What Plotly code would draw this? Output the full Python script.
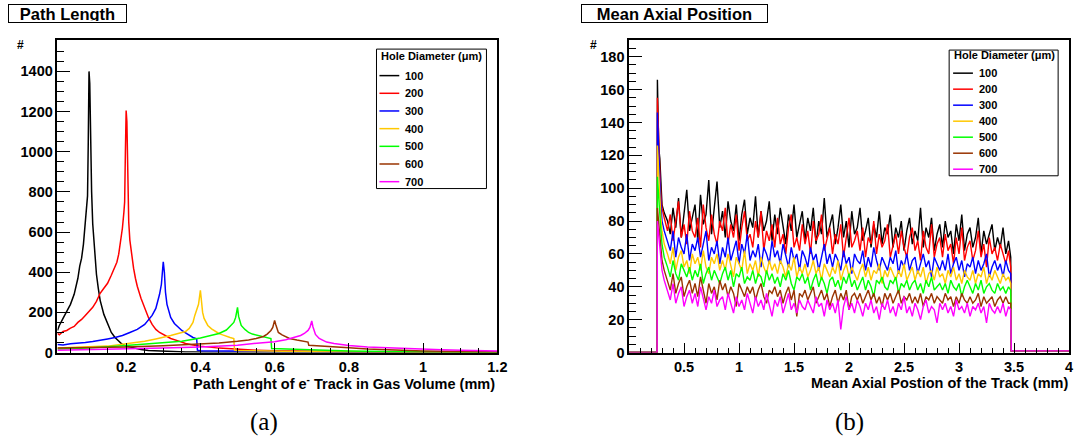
import plotly.graph_objects as go

# ---------------- data ----------------
diameters = ["100", "200", "300", "400", "500", "600", "700"]
colors = ["#000000", "#ff0000", "#0000ff", "#ffc800", "#00ff00", "#993300", "#ff00ff"]
legend_title = "Hole Diameter (μm)"

# Left panel: path length of e- track in gas volume (mm) vs counts
len_x_100 = [0.015, 0.02, 0.03, 0.04, 0.05, 0.06, 0.07, 0.075, 0.08, 0.085,
             0.09, 0.093, 0.096, 0.098, 0.1, 0.102, 0.104, 0.107, 0.11, 0.115,
             0.12, 0.125, 0.13, 0.14, 0.15, 0.16, 0.17, 0.18, 0.19, 0.2,
             0.22, 0.24, 0.26, 0.28, 0.3, 0.32, 0.34, 0.36, 0.38, 0.4,
             0.45, 0.5, 0.6, 0.8, 1.0, 1.2]
len_y_100 = [110, 135, 170, 205, 240, 290, 370, 430, 470, 540,
             640, 720, 780, 1050, 1400, 1340, 1000, 800, 640, 500,
             390, 320, 260, 190, 140, 100, 75, 55, 40, 32,
             22, 15, 10, 8, 6, 5, 4, 3, 3, 2,
             1, 1, 0, 0, 0, 0]

len_x_200 = [0.015, 0.02, 0.03, 0.04, 0.05, 0.06, 0.07, 0.08, 0.09, 0.1,
             0.11, 0.12, 0.13, 0.14, 0.15, 0.16, 0.17, 0.175, 0.18, 0.185,
             0.19, 0.194, 0.196, 0.198, 0.2, 0.202, 0.204, 0.207, 0.21, 0.215,
             0.22, 0.225, 0.23, 0.24, 0.25, 0.26, 0.27, 0.28, 0.29, 0.3,
             0.32, 0.34, 0.36, 0.38, 0.4, 0.45, 0.5, 0.55, 0.6, 0.7,
             0.8, 0.9, 1.0, 1.2]
len_y_200 = [95, 88, 105, 110, 122, 130, 150, 165, 185, 205,
             225, 255, 295, 320, 345, 385, 430, 450, 490, 550,
             620, 700, 750, 1000, 1205, 1150, 900, 650, 560, 480,
             420, 370, 330, 270, 220, 175, 140, 115, 100, 90,
             70, 58, 45, 38, 32, 22, 16, 12, 9, 6,
             4, 3, 2, 1]

len_x_300 = [0.015, 0.03, 0.05, 0.07, 0.09, 0.11, 0.13, 0.15, 0.17, 0.19,
             0.21, 0.23, 0.25, 0.26, 0.27, 0.28, 0.285, 0.29, 0.295, 0.3,
             0.303, 0.306, 0.31, 0.315, 0.32, 0.33, 0.34, 0.35, 0.36, 0.37,
             0.38, 0.39, 0.392, 0.4, 0.45, 0.5, 0.6, 0.7, 0.8, 1.0,
             1.2]
len_y_300 = [40, 38, 44, 46, 50, 55, 60, 68, 75, 85,
             100, 115, 140, 160, 185, 220, 250, 290, 340, 452,
             400, 300, 240, 200, 175, 145, 125, 110, 98, 85,
             75, 68, 12, 9, 8, 6, 4, 3, 2, 1,
             0]

len_x_400 = [0.015, 0.05, 0.1, 0.15, 0.2, 0.25, 0.28, 0.3, 0.32, 0.34,
             0.36, 0.37, 0.38, 0.385, 0.39, 0.395, 0.4, 0.403, 0.406, 0.41,
             0.415, 0.42, 0.43, 0.44, 0.45, 0.46, 0.47, 0.48, 0.49, 0.492,
             0.5, 0.55, 0.6, 0.65, 0.7, 0.8, 0.9, 1.0, 1.2]
len_y_400 = [22, 24, 28, 32, 44, 56, 68, 75, 85, 95,
             105, 120, 150, 185, 210, 240, 310, 250, 200, 170,
             150, 135, 118, 105, 95, 88, 80, 75, 70, 12,
             10, 8, 6, 5, 4, 3, 2, 1, 0]

len_x_500 = [0.015, 0.1, 0.2, 0.3, 0.35, 0.4, 0.43, 0.45, 0.47, 0.48,
             0.49, 0.495, 0.5, 0.503, 0.507, 0.51, 0.52, 0.53, 0.54, 0.56,
             0.58, 0.59, 0.592, 0.65, 0.7, 0.8, 0.9, 1.0, 1.2]
len_y_500 = [18, 22, 35, 48, 56, 72, 85, 95, 112, 130,
             150, 175, 225, 180, 150, 135, 115, 100, 92, 82,
             75, 70, 20, 16, 12, 8, 5, 3, 1]

len_x_600 = [0.015, 0.1, 0.2, 0.3, 0.4, 0.45, 0.5, 0.53, 0.55, 0.57,
             0.58, 0.59, 0.595, 0.6, 0.603, 0.607, 0.61, 0.62, 0.63, 0.64,
             0.66, 0.68, 0.69, 0.692, 0.72, 0.76, 0.8, 0.85, 0.9, 1.0,
             1.1, 1.2]
len_y_600 = [22, 24, 28, 34, 42, 48, 56, 62, 70, 80,
             92, 110, 125, 160, 140, 115, 100, 88, 78, 70,
             62, 56, 52, 36, 32, 28, 24, 18, 14, 8,
             5, 3]

len_x_700 = [0.015, 0.1, 0.2, 0.3, 0.4, 0.5, 0.56, 0.6, 0.63, 0.65,
             0.67, 0.68, 0.69, 0.695, 0.7, 0.703, 0.707, 0.71, 0.72, 0.74,
             0.76, 0.78, 0.8, 0.85, 0.9, 0.95, 1.0, 1.05, 1.1, 1.15,
             1.2]
len_y_700 = [12, 14, 17, 22, 28, 36, 48, 54, 64, 75,
             85, 95, 110, 125, 157, 130, 105, 90, 70, 52,
             45, 40, 35, 28, 24, 20, 17, 14, 12, 10,
             8]

# Right panel: mean axial position of the track (mm) vs counts
pos_x_head = [0.0, 0.255, 0.258, 0.27, 0.28, 0.29, 0.30, 0.32]
pos_x_grid = [round(0.35 + 0.025 * i, 3) for i in range(125)]   # bins 0.35 ... 3.45
pos_x_tail = [3.47, 3.475, 4.0]
pos_lead = [0, 0]
pos_end = [1, 1]

pos_100 = [166, 125, 118, 100, 90, 85,
           80, 72, 88, 76, 94, 70, 85, 99, 74, 82,
           90, 68, 96, 78, 84, 105, 72, 88, 104, 76,
           86, 70, 92, 80, 74, 90, 68, 84, 93, 72,
           82, 76, 95, 70, 86, 74, 80, 92, 68, 84,
           72, 88, 76, 66, 84, 74, 90, 70, 78, 86,
           68, 82, 74, 88, 66, 80, 72, 94, 70, 78,
           84, 66, 76, 90, 70, 80, 64, 86, 72, 76,
           88, 68, 74, 82, 64, 78, 70, 86, 66, 76,
           72, 84, 64, 76, 70, 80, 62, 74, 82, 66,
           74, 68, 88, 64, 76, 70, 82, 62, 72, 78,
           64, 80, 70, 74, 60, 78, 68, 84, 62, 72,
           76, 64, 70, 82, 60, 74, 66, 72, 78, 62,
           70, 64, 76, 60, 68,
           58]
pos_200 = [155, 122, 110, 96, 88, 82,
           74, 84, 68, 80, 92, 70, 78, 66, 86, 74,
           70, 82, 64, 90, 76, 68, 84, 72, 66, 80,
           74, 88, 66, 78, 70, 84, 62, 76, 86, 68,
           72, 64, 80, 70, 86, 62, 74, 68, 78, 64,
           82, 66, 72, 60, 76, 84, 64, 70, 62, 78,
           66, 74, 60, 80, 68, 72, 84, 62, 70, 76,
           60, 72, 66, 78, 58, 70, 82, 64, 68, 74,
           62, 76, 58, 70, 66, 80, 60, 72, 64, 68,
           78, 58, 66, 72, 60, 74, 64, 58, 70, 76,
           62, 68, 56, 74, 64, 60, 78, 58, 66, 70,
           58, 72, 62, 66, 54, 70, 60, 76, 56, 64,
           68, 56, 62, 74, 58, 66, 52, 70, 60, 64,
           56, 66, 60, 54, 62,
           52]
pos_300 = [146, 118, 104, 90, 80, 74,
           68, 62, 74, 58, 70, 64, 60, 72, 56, 66,
           62, 70, 58, 66, 74, 56, 64, 60, 68, 54,
           64, 58, 70, 56, 62, 68, 54, 66, 60, 72,
           56, 62, 58, 66, 52, 64, 60, 54, 68, 58,
           62, 54, 66, 58, 52, 64, 56, 60, 50, 62,
           58, 52, 64, 56, 60, 50, 58, 66, 54, 60,
           52, 60, 56, 50, 62, 54, 58, 48, 60, 56,
           54, 62, 50, 58, 52, 64, 56, 50, 58, 54,
           50, 58, 54, 62, 48, 56, 52, 60, 50, 56,
           58, 48, 54, 60, 52, 56, 46, 58, 54, 50,
           56, 50, 60, 48, 54, 58, 50, 56, 46, 54,
           52, 58, 48, 56, 50, 54, 60, 46, 52, 56,
           50, 54, 46, 56, 50,
           48]
pos_400 = [126, 106, 95, 82, 74, 66,
           60, 54, 64, 50, 58, 62, 52, 56, 48, 60,
           54, 58, 50, 62, 52, 48, 58, 54, 60, 50,
           56, 50, 60, 52, 46, 58, 54, 50, 62, 48,
           54, 50, 56, 46, 58, 52, 48, 56, 50, 54,
           48, 56, 52, 46, 54, 50, 58, 46, 52, 48,
           54, 46, 50, 56, 48, 52, 44, 54, 50, 46,
           52, 48, 56, 44, 50, 54, 46, 52, 48, 44,
           50, 54, 46, 52, 44, 50, 48, 54, 42, 50,
           46, 52, 48, 44, 50, 46, 54, 44, 48, 52,
           44, 50, 46, 52, 42, 48, 50, 44, 52, 46,
           48, 42, 50, 46, 52, 44, 48, 42, 50, 46,
           44, 50, 42, 48, 46, 52, 42, 48, 44, 50,
           46, 42, 48, 44, 46,
           42]
pos_500 = [107, 92, 85, 74, 66, 58,
           52, 46, 56, 48, 44, 54, 50, 46, 52, 44,
           50, 46, 54, 42, 48, 52, 44, 50, 46, 42,
           48, 52, 44, 50, 40, 48, 46, 52, 42, 46,
           44, 50, 42, 48, 46, 40, 50, 44, 48, 42,
           46, 40, 48, 44, 50, 42, 38, 46, 44, 48,
           42, 46, 38, 44, 48, 40, 46, 42, 36, 44,
           46, 40, 44, 38, 46, 42, 48, 40, 44, 38,
           42, 46, 38, 44, 40, 34, 44, 42, 46, 40,
           38, 44, 42, 46, 36, 42, 40, 44, 38, 42,
           44, 38, 42, 36, 44, 40, 46, 38, 40, 42,
           38, 42, 36, 44, 40, 38, 42, 34, 40, 44,
           40, 36, 42, 38, 44, 36, 40, 42, 38, 36,
           42, 38, 40, 36, 40,
           38]
pos_600 = [88, 80, 72, 64, 56, 50,
           44, 38, 48, 36, 42, 46, 34, 40, 44, 36,
           42, 34, 46, 38, 30, 42, 36, 40, 32, 44,
           38, 42, 34, 40, 36, 28, 42, 38, 34, 40,
           36, 40, 32, 38, 42, 34, 30, 38, 36, 40,
           34, 38, 30, 36, 40, 32, 38, 22, 36, 34,
           38, 32, 36, 40, 30, 34, 38, 32, 36, 28,
           34, 38, 30, 36, 32, 38, 26, 34, 36, 32,
           36, 30, 34, 38, 32, 36, 30, 34, 28, 36,
           32, 36, 30, 34, 38, 30, 34, 32, 36, 30,
           34, 30, 36, 28, 34, 32, 36, 30, 34, 32,
           30, 36, 32, 34, 28, 34, 30, 36, 32, 30,
           34, 30, 32, 36, 28, 34, 30, 32, 34, 28,
           32, 34, 30, 34, 30,
           30]
pos_700 = [80, 70, 62, 56, 50, 44,
           38, 32, 42, 30, 36, 40, 28, 34, 38, 30,
           36, 28, 40, 32, 26, 34, 30, 38, 28, 32,
           34, 26, 36, 30, 24, 34, 28, 32, 26, 36,
           30, 24, 34, 28, 32, 26, 36, 28, 22, 32,
           28, 34, 24, 30, 36, 26, 30, 24, 32, 28,
           26, 32, 28, 24, 34, 28, 30, 22, 32, 26,
           30, 24, 32, 14, 28, 34, 26, 30, 24, 32,
           28, 22, 30, 26, 32, 24, 28, 20, 30, 26,
           32, 24, 28, 22, 30, 26, 34, 24, 28, 22,
           30, 26, 20, 28, 32, 24, 28, 26, 18, 30,
           26, 30, 24, 28, 22, 32, 26, 28, 24, 30,
           22, 28, 26, 30, 24, 28, 18, 30, 26, 24,
           28, 24, 30, 22, 28,
           26]

len_series = [(len_x_100, len_y_100), (len_x_200, len_y_200), (len_x_300, len_y_300),
              (len_x_400, len_y_400), (len_x_500, len_y_500), (len_x_600, len_y_600),
              (len_x_700, len_y_700)]
pos_series = [pos_100, pos_200, pos_300, pos_400, pos_500, pos_600, pos_700]

# ---------------- figure ----------------
W, H = 1082, 445
FONT = "Liberation Sans, Arial, Helvetica, sans-serif"

fig = go.Figure()

for name, col, (xs, ys) in zip(diameters, colors, len_series):
    n = min(len(xs), len(ys))
    fig.add_trace(go.Scatter(x=xs[:n], y=ys[:n], mode="lines", name=name,
                             line=dict(color=col, width=1.5),
                             xaxis="x", yaxis="y", showlegend=False))

pos_x = pos_x_head + pos_x_grid + pos_x_tail
for name, col, vals in zip(diameters, colors, pos_series):
    ys = pos_lead + vals + pos_end
    n = min(len(pos_x), len(ys))
    fig.add_trace(go.Scatter(x=pos_x[:n], y=ys[:n], mode="lines", name=name,
                             line=dict(color=col, width=1.4),
                             xaxis="x2", yaxis="y2", showlegend=False))

tickfont = dict(family=FONT, size=14.5, color="black", weight="bold")
XL = [58 / W, 502 / W]
XR = [635 / W, 1079 / W]
YD = [1 - 359 / H, 1 - 41 / H]

common = dict(showgrid=False, zeroline=False, showline=True, mirror=True,
              linecolor="black", linewidth=1.5, ticks="inside",
              tickcolor="black", tickwidth=1.3, tickfont=tickfont)

fig.update_layout(
    width=W, height=H,
    margin=dict(l=0, r=0, t=0, b=0),
    paper_bgcolor="white", plot_bgcolor="white",
    showlegend=False,
    xaxis=dict(domain=XL, range=[0.015, 1.2], anchor="y", tickmode="linear",
               tick0=0, dtick=0.2, ticklen=10,
               minor=dict(tick0=0, dtick=0.05, ticks="inside", ticklen=5,
                          tickcolor="black", tickwidth=1),
               **common),
    yaxis=dict(domain=YD, range=[0, 1555], anchor="x", tickmode="linear",
               tick0=0, dtick=200, ticklen=13,
               minor=dict(tick0=0, dtick=50, ticks="inside", ticklen=7,
                          tickcolor="black", tickwidth=1),
               **common),
    xaxis2=dict(domain=XR, range=[0.001, 4], anchor="y2", tickmode="linear",
                tick0=0, dtick=0.5, ticklen=10,
                minor=dict(tick0=0, dtick=0.1, ticks="inside", ticklen=5,
                           tickcolor="black", tickwidth=1),
                **common),
    yaxis2=dict(domain=YD, range=[0, 190], anchor="x2", tickmode="linear",
                tick0=0, dtick=20, ticklen=13,
                minor=dict(tick0=0, dtick=5, ticks="inside", ticklen=7,
                           tickcolor="black", tickwidth=1),
                **common),
)

title_font = dict(family=FONT, size=16.5, color="black", weight="bold")
label_font = dict(family=FONT, size=14.5, color="black", weight="bold")
leg_font = dict(family=FONT, size=11, color="black", weight="bold")
annots = [
    dict(text="Path Length", x=8 / W, y=1 - 4 / H, xanchor="left", yanchor="top",
         width=115, height=15, borderpad=1, bordercolor="black", borderwidth=1,
         bgcolor="white", font=title_font, align="center"),
    dict(text="Mean Axial Position", x=586 / W, y=1 - 4 / H, xanchor="left", yanchor="top",
         width=183, height=15, borderpad=1, bordercolor="black", borderwidth=1,
         bgcolor="white", font=title_font, align="center"),
    dict(text="#", x=21 / W, y=1 - 46 / H, xanchor="center", yanchor="middle",
         font=dict(family=FONT, size=12, color="black", weight="bold")),
    dict(text="#", x=599 / W, y=1 - 46 / H, xanchor="center", yanchor="middle",
         font=dict(family=FONT, size=12, color="black", weight="bold")),
    dict(text="Path Lenght of e<sup>-</sup> Track in Gas Volume (mm)", x=502 / W,
         y=1 - 390 / H, xanchor="right", yanchor="middle", font=label_font),
    dict(text="Mean Axial Postion of the Track (mm)", x=1080 / W,
         y=1 - 390 / H, xanchor="right", yanchor="middle", font=label_font),
    dict(text="(a)", x=266 / W, y=1 - 430 / H, xanchor="center", yanchor="middle",
         font=dict(family="Liberation Serif, Times New Roman, serif", size=25, color="black")),
    dict(text="(b)", x=857 / W, y=1 - 430 / H, xanchor="center", yanchor="middle",
         font=dict(family="Liberation Serif, Times New Roman, serif", size=25, color="black")),
]

# legend boxes (one per panel): box, title, sample lines and labels
legend_boxes = [
    dict(x0=380, x1=491, y0=50, y1=192, title_y=57, first=77, step=18,
         lx0=383, lx1=403, tx=407),
    dict(x0=958, x1=1068, y0=51, y1=179, title_y=56.5, first=74.5, step=16.3,
         lx0=962, lx1=982, tx=986),
]
shapes = []
for lb in legend_boxes:
    shapes.append(dict(type="rect", xref="paper", yref="paper",
                       x0=lb["x0"] / W, x1=lb["x1"] / W,
                       y0=1 - lb["y1"] / H, y1=1 - lb["y0"] / H,
                       line=dict(color="black", width=1), fillcolor="white", layer="above"))
    annots.append(dict(text=legend_title, x=(lb["x0"] + 3) / W, y=1 - lb["title_y"] / H,
                       xanchor="left", yanchor="middle", font=leg_font))
    for i, (name, col) in enumerate(zip(diameters, colors)):
        yy = 1 - (lb["first"] + i * lb["step"]) / H
        shapes.append(dict(type="line", xref="paper", yref="paper",
                           x0=lb["lx0"] / W, x1=lb["lx1"] / W, y0=yy, y1=yy,
                           line=dict(color=col, width=1.5), layer="above"))
        annots.append(dict(text=name, x=lb["tx"] / W, y=yy, xanchor="left",
                           yanchor="middle", font=leg_font))

fig.update_layout(shapes=shapes)
for a in annots:
    a.setdefault("xref", "paper")
    a.setdefault("yref", "paper")
    a.setdefault("showarrow", False)
    fig.add_annotation(**a)

fig.write_html("out.html")
